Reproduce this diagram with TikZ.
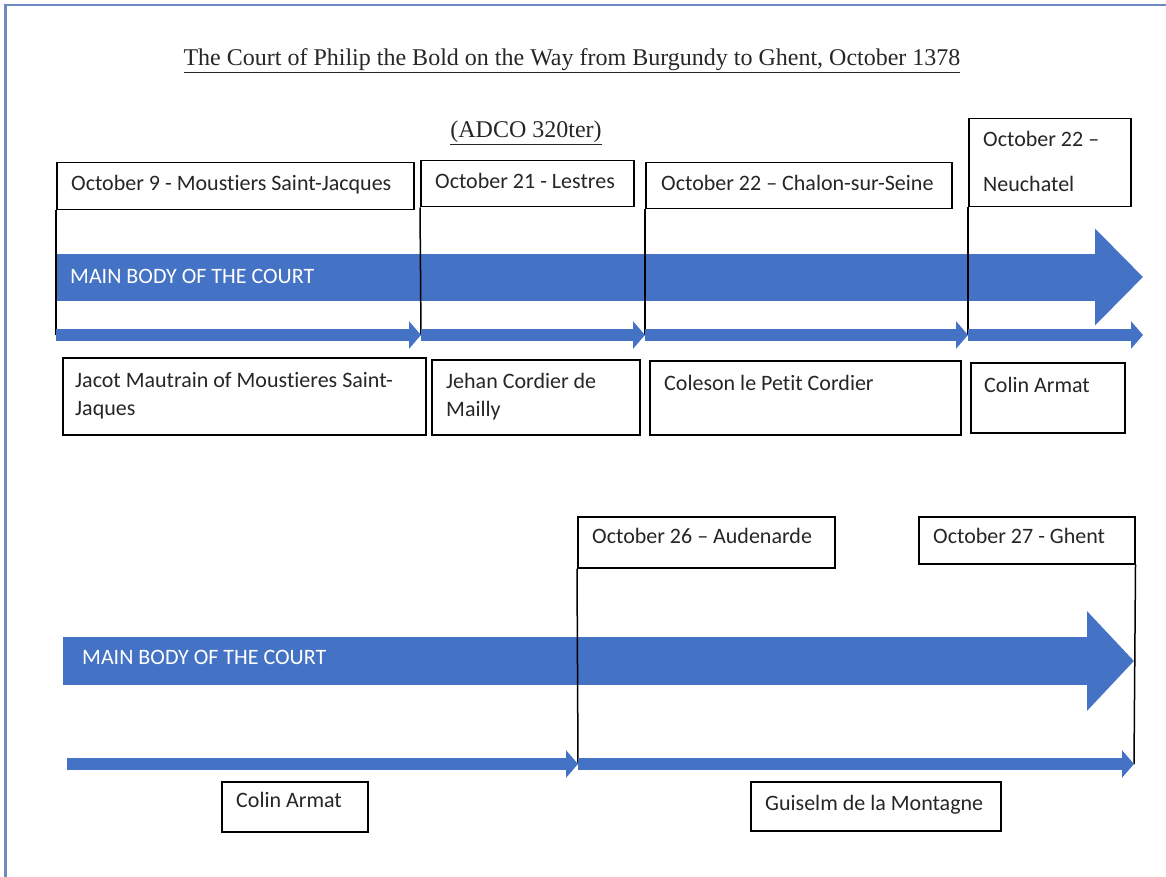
\documentclass[tikz,border=0pt]{standalone}
\usepackage{fontspec}
\setmainfont{Carlito}[Ligatures={NoCommon}]
\newfontfamily\tnr{Liberation Serif}
\usetikzlibrary{arrows.meta}
\definecolor{obl}{HTML}{4472C4}
\definecolor{frm}{HTML}{6E8AC2}
\begin{document}
\begin{tikzpicture}[x=1pt,y=-1pt,
  box/.style={draw=black, line width=1.5pt, inner sep=0pt, anchor=north west, fill=white},
  lbl/.style={inner sep=0pt, font=\fontsize{22}{28}\selectfont, align=left, text=black!85},
  wlbl/.style={inner sep=0pt, font=\fontsize{22}{28}\selectfont, text=white},
  ttl/.style={inner sep=0pt, font=\tnr\fontsize{24}{28}\selectfont, text=black!85},
  vline/.style={draw=black, line width=1.5pt},
  thin/.style={draw=obl, line width=12pt, -{Triangle[length=12pt, width=27pt]}},
  bigA/.style={draw=obl, line width=47pt, -{Triangle[length=48pt, width=94pt]}},
  bigB/.style={draw=obl, line width=48pt, -{Triangle[length=47pt, width=97pt]}},
  frame/.style={draw=frm, line width=2.5pt}
]
\useasboundingbox (0,0) rectangle (1166,877);
% frame
\draw[frame] (5.5,877) -- (5.5,5) -- (1166,5);

% title
\node[ttl] (title) at (572,61) {\underline{The Court of Philip the Bold on the Way from Burgundy to Ghent, October 1378}};
\node[ttl] (src) at (526,133) {\underline{(ADCO 320ter)}};

% ===== upper section =====
\coordinate (A1s) at (56,277);
\coordinate (A1e) at (1143,277);
\draw[bigA] (A1s) -- (A1e);
\node[wlbl, anchor=mid west] (mb1) at (70,281) {MAIN BODY OF THE COURT};

% date boxes
\node[box, minimum width=357pt, minimum height=47pt] (d1) at (56,162) {};
\node[box, minimum width=213pt, minimum height=46pt] (d2) at (420,160) {};
\node[box, minimum width=306pt, minimum height=46pt] (d3) at (645,162) {};
\node[box, minimum width=162pt, minimum height=88pt] (d4) at (968,118) {};
\node[lbl, anchor=mid west] (t1) at (71,188) {October 9 - Moustiers Saint-Jacques};
\node[lbl, anchor=mid west] (t2) at (435,186) {October 21 - Lestres};
\node[lbl, anchor=mid west] (t3) at (661,188) {October 22 -- Chalon-sur-Seine};
\node[lbl, anchor=mid west] (t4a) at (983,144) {October 22 --};
\node[lbl, anchor=mid west] (t4b) at (983,189) {Neuchatel};

% small arrow points
\coordinate (p1) at (56,335);
\coordinate (p2) at (421,335);
\coordinate (p3) at (645,335);
\coordinate (p4) at (968,335);
\coordinate (p5) at (1143,335);
\draw[vline] (d1.south west) -- (p1);
\draw[vline] (d2.south west) -- (p2);
\draw[vline] (d3.south west) -- (p3);
\draw[vline] (d4.south west) -- (p4);
\draw[thin] (p1) -- (p2);
\draw[thin] (p2) -- (p3);
\draw[thin] (p3) -- (p4);
\draw[thin] (p4) -- (p5);

% name boxes
\node[box, minimum width=363pt, minimum height=77pt] (n1) at (62,357) {};
\node[box, minimum width=208pt, minimum height=75pt] (n2) at (431,359) {};
\node[box, minimum width=311pt, minimum height=74pt] (n3) at (649,360) {};
\node[box, minimum width=154pt, minimum height=70pt] (n4) at (970,362) {};
\node[lbl, anchor=west] (m1) at (75,396) {Jacot Mautrain of Moustieres Saint-\\Jaques};
\node[lbl, anchor=west] (m2) at (446,397) {Jehan Cordier de\\Mailly};
\node[lbl, anchor=mid west] (m3) at (664,388) {Coleson le Petit Cordier};
\node[lbl, anchor=mid west] (m4) at (984,390) {Colin Armat};

% ===== lower section =====
\coordinate (B1s) at (63,661);
\coordinate (B1e) at (1134,661);
\draw[bigB] (B1s) -- (B1e);
\node[wlbl, anchor=mid west] (mb2) at (82,662) {MAIN BODY OF THE COURT};

\node[box, minimum width=257pt, minimum height=51pt] (d5) at (577,516) {};
\node[box, minimum width=216pt, minimum height=47pt] (d6) at (918,516) {};
\node[lbl, anchor=mid west] (t5) at (592,541) {October 26 -- Audenarde};
\node[lbl, anchor=mid west] (t6) at (933,541) {October 27 - Ghent};

\coordinate (q1) at (67,764);
\coordinate (q2) at (578,764);
\coordinate (q3) at (1134,764);
\draw[vline] (d5.south west) -- (q2);
\draw[vline] (d6.south east) -- (q3);
\draw[thin] (q1) -- (q2);
\draw[thin] (q2) -- (q3);

\node[box, minimum width=146pt, minimum height=50pt] (n5) at (221,781) {};
\node[box, minimum width=250pt, minimum height=49pt] (n6) at (750,781) {};
\node[lbl, anchor=mid west] (m5) at (236,805) {Colin Armat};
\node[lbl, anchor=mid west] (m6) at (765,808) {Guiselm de la Montagne};
\end{tikzpicture}
\end{document}
